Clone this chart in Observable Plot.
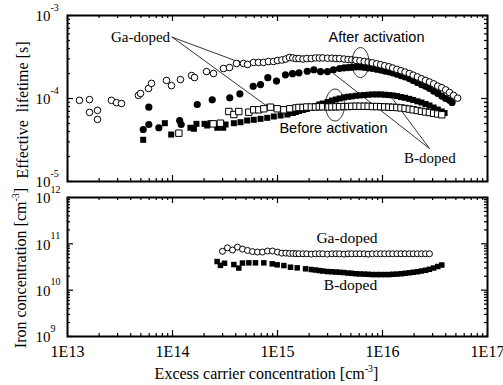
<!DOCTYPE html>
<html><head><meta charset="utf-8">
<script src="https://cdn.jsdelivr.net/npm/d3@7"></script>
<script src="https://cdn.jsdelivr.net/npm/@observablehq/plot@0.6"></script>
<style>
body{margin:0;background:#fff;}
#chart{position:relative;width:503px;height:385px;background:#fff;overflow:hidden;}
#chart svg{position:absolute;left:0;}
</style></head><body><div id="chart"></div>
<script>
// ---------- axes / ticks ----------
const xDomain = [1e13, 1e17];
const xMajor = [1e13, 1e14, 1e15, 1e16, 1e17];
const xTickLabels = ["1E13", "1E14", "1E15", "1E16", "1E17"];
const minorMantissas = [2, 3, 4, 5, 6, 7, 8, 9];
const tauDomain = [1e-5, 1e-3];
const tauMajor = [1e-5, 1e-4, 1e-3];
const tauExp = ["-5", "-4", "-3"];
const feDomain = [1e9, 1e12];
const feMajor = [1e9, 1e10, 1e11, 1e12];
const feExp = ["9", "10", "11", "12"];
const xTitle = "Excess carrier concentration [cm⁻³]";
const tauTitle = "Effective\u00a0 lifetime [s]";
const feTitle = "Iron concentration [cm⁻³]";

// ---------- top panel: effective lifetime ----------
// Ga-doped, after activation (open circles)
const gaAfterN = [1.30e13,1.62e13,1.62e13,1.93e13,1.93e13,2.62e13,2.93e13,3.27e13,4.74e13,4.96e13,5.91e13,6.31e13,8.77e13,9.78e13,1.19e14,1.52e14,1.62e14,2.11e14,2.46e14,3.06e14,3.49e14,4.07e14,4.74e14,5.18e14,5.91e14,6.59e14,7.36e14,8.21e14,9.16e14,
1.0e15,1.1e15,1.2e15,1.3e15,1.4e15,1.5e15,1.6e15,1.75e15,1.9e15,2.1e15,2.3e15,2.5e15,2.7e15,3.0e15,3.3e15,3.6e15,3.9e15,4.3e15,4.7e15,5.1e15,5.6e15,6.1e15,6.7e15,7.3e15,8.0e15,8.8e15,9.6e15,
1.05e16,1.15e16,1.25e16,1.37e16,1.5e16,1.64e16,1.8e16,1.96e16,2.15e16,2.35e16,2.57e16,2.8e16,3.07e16,3.36e16,3.67e16,4.0e16,4.35e16,4.75e16,5.2e16];
const gaAfterTau = [9.5e-5,9.7e-5,6.8e-5,7.2e-5,5.6e-5,9.5e-5,8.9e-5,8.7e-5,1.09e-4,1.15e-4,1.32e-4,1.52e-4,1.65e-4,1.43e-4,1.69e-4,1.89e-4,1.79e-4,2.11e-4,2.0e-4,2.30e-4,2.36e-4,2.64e-4,2.64e-4,2.57e-4,2.72e-4,2.72e-4,2.72e-4,2.79e-4,2.79e-4,
2.87e-4,2.91e-4,2.99e-4,3.12e-4,3.08e-4,3.03e-4,3.03e-4,2.99e-4,3.03e-4,3.03e-4,3.08e-4,3.08e-4,3.08e-4,3.06e-4,3.06e-4,3.03e-4,3.03e-4,2.99e-4,2.95e-4,2.93e-4,2.88e-4,2.85e-4,2.79e-4,2.75e-4,2.69e-4,2.62e-4,2.55e-4,
2.48e-4,2.41e-4,2.33e-4,2.24e-4,2.16e-4,2.08e-4,2.0e-4,1.91e-4,1.82e-4,1.73e-4,1.65e-4,1.58e-4,1.50e-4,1.41e-4,1.35e-4,1.27e-4,1.18e-4,1.09e-4,1.01e-4];

// B-doped, after activation (filled circles)
const bAfterN = [5.26e13,5.95e13,5.95e13,7.41e13,1.17e14,1.21e14,1.72e14,2.39e14,3.51e14,4.38e14,5.87e14,6.89e14,8.09e14,9.78e14,
1.19e15,1.39e15,1.60e15,1.92e15,2.22e15,2.57e15,2.99e15,3.41e15,3.9e15,4.3e15,4.7e15,5.1e15,5.6e15,6.1e15,6.7e15,7.3e15,8.0e15,8.8e15,9.6e15,
1.05e16,1.15e16,1.25e16,1.37e16,1.5e16,1.64e16,1.8e16,1.96e16,2.15e16,2.35e16,2.57e16,2.8e16,3.07e16,3.36e16,3.67e16,4.0e16,4.35e16,4.6e16];
const bAfterTau = [4.23e-5,4.86e-5,7.86e-5,4.44e-5,5.43e-5,4.86e-5,8.47e-5,9.64e-5,1.02e-4,1.14e-4,1.40e-4,1.47e-4,1.78e-4,1.62e-4,
1.93e-4,1.99e-4,2.04e-4,2.13e-4,2.22e-4,2.11e-4,2.11e-4,2.22e-4,2.30e-4,2.34e-4,2.36e-4,2.38e-4,2.40e-4,2.40e-4,2.38e-4,2.34e-4,2.30e-4,2.25e-4,2.20e-4,
2.14e-4,2.10e-4,2.04e-4,1.96e-4,1.89e-4,1.82e-4,1.74e-4,1.65e-4,1.56e-4,1.47e-4,1.40e-4,1.32e-4,1.23e-4,1.15e-4,1.07e-4,1.0e-4,9.5e-5,8.95e-5];

// Ga-doped, before activation (open squares)
const gaBeforeN = [1.15e14,2.44e14,2.86e14,3.44e14,3.84e14,4.28e14,5.33e14,5.94e14,6.64e14,7.41e14,8.58e14,9.93e14,1.15e15,1.31e15,
1.5e15,1.6e15,1.75e15,1.9e15,2.1e15,2.3e15,2.5e15,2.7e15,3.0e15,3.3e15,3.6e15,3.9e15,4.3e15,4.7e15,5.1e15,5.6e15,6.1e15,6.7e15,7.3e15,8.0e15,8.8e15,9.6e15,
1.05e16,1.15e16,1.25e16,1.37e16,1.5e16,1.64e16,1.8e16,1.96e16,2.15e16,2.35e16,2.57e16,2.8e16,3.07e16,3.36e16,3.67e16];
const gaBeforeTau = [3.82e-5,4.95e-5,5.04e-5,6.97e-5,6.41e-5,6.97e-5,6.84e-5,7.31e-5,7.31e-5,7.52e-5,7.86e-5,7.52e-5,7.31e-5,7.52e-5,
7.7e-5,7.8e-5,7.8e-5,7.9e-5,7.9e-5,7.9e-5,7.95e-5,7.95e-5,7.9e-5,7.92e-5,7.94e-5,7.96e-5,8.0e-5,8.0e-5,8.05e-5,8.07e-5,8.07e-5,8.07e-5,8.05e-5,8.0e-5,8.0e-5,7.96e-5,
7.92e-5,7.88e-5,7.83e-5,7.79e-5,7.70e-5,7.58e-5,7.45e-5,7.31e-5,7.16e-5,7.01e-5,6.88e-5,6.78e-5,6.63e-5,6.51e-5,6.37e-5];

// B-doped, before activation (filled squares)
const bBeforeN = [5.26e13,8.45e13,9.72e13,1.48e14,1.60e14,1.69e14,2.02e14,2.14e14,2.30e14,2.67e14,3.04e14,3.20e14,3.84e14,4.44e14,5.14e14,5.94e14,6.89e14,7.98e14,9.22e14,1.07e15,1.24e15,
1.4e15,1.5e15,1.6e15,1.75e15,1.9e15,2.1e15,2.3e15,2.5e15,2.7e15,3.0e15,3.3e15,3.6e15,3.9e15,4.3e15,4.7e15,5.1e15,5.6e15,6.1e15,6.7e15,7.3e15,8.0e15,8.8e15,9.6e15,
1.05e16,1.15e16,1.25e16,1.37e16,1.5e16,1.64e16,1.8e16,1.96e16,2.15e16,2.35e16,2.57e16,2.8e16,3.07e16,3.36e16,3.67e16,3.9e16];
const bBeforeTau = [3.18e-5,5.04e-5,3.68e-5,4.44e-5,4.32e-5,4.95e-5,4.95e-5,4.73e-5,5.04e-5,4.44e-5,4.44e-5,4.86e-5,5.04e-5,5.18e-5,5.43e-5,5.54e-5,5.69e-5,5.85e-5,6.07e-5,6.24e-5,6.41e-5,
6.69e-5,6.88e-5,7.07e-5,7.27e-5,7.47e-5,7.79e-5,8.12e-5,8.47e-5,8.70e-5,9.08e-5,9.46e-5,9.72e-5,1.0e-4,1.03e-4,1.05e-4,1.06e-4,1.08e-4,1.09e-4,1.10e-4,1.11e-4,1.12e-4,1.12e-4,1.12e-4,
1.11e-4,1.10e-4,1.09e-4,1.07e-4,1.04e-4,1.02e-4,9.9e-5,9.6e-5,9.25e-5,8.95e-5,8.59e-5,8.24e-5,7.79e-5,7.37e-5,6.97e-5,6.69e-5];

// ---------- bottom panel: iron concentration ----------
const gaFeN = [2.99e14,3.34e14,3.73e14,4.16e14,4.64e14,5.18e14,5.78e14,6.45e14,7.20e14,8.03e14,8.96e14,1.0e15,1.1e15,1.2e15,1.3e15,1.4e15,1.5e15,1.6e15,1.75e15,1.9e15,2.1e15,2.3e15,2.5e15,2.7e15,3.0e15,3.3e15,3.6e15,3.9e15,4.3e15,4.7e15,5.1e15,5.6e15,6.1e15,6.7e15,7.3e15,8.0e15,8.8e15,9.6e15,
1.05e16,1.15e16,1.25e16,1.37e16,1.5e16,1.64e16,1.8e16,1.96e16,2.15e16,2.35e16,2.57e16,2.8e16];
const gaFe = [6.9e10,8.2e10,7.35e10,8.5e10,7.7e10,7.2e10,6.8e10,6.65e10,6.65e10,7.0e10,7.0e10,6.65e10,6.3e10,6.3e10,6.2e10,6.2e10,6.1e10,6.1e10,6.1e10,6.1e10,6.0e10,6.1e10,6.1e10,6.1e10,6.0e10,6.1e10,6.1e10,6.1e10,6.0e10,6.1e10,6.1e10,6.1e10,6.1e10,6.1e10,6.0e10,6.1e10,6.1e10,6.1e10,
6.1e10,6.1e10,6.1e10,6.1e10,6.1e10,6.1e10,6.1e10,6.1e10,6.1e10,6.1e10,6.1e10,6.1e10];
const bFeN = [2.66e14,2.86e14,3.13e14,3.84e14,4.28e14,4.64e14,5.33e14,6.17e14,7.41e14,8.91e14,9.93e14,1.15e15,1.33e15,1.54e15,1.85e15,
2.1e15,2.3e15,2.5e15,2.7e15,3.0e15,3.3e15,3.6e15,3.9e15,4.3e15,4.7e15,5.1e15,5.6e15,6.1e15,6.7e15,7.3e15,8.0e15,8.8e15,9.6e15,
1.05e16,1.15e16,1.25e16,1.37e16,1.5e16,1.64e16,1.8e16,1.96e16,2.15e16,2.35e16,2.57e16,2.8e16,3.07e16,3.36e16,3.67e16];
const bFe = [4.15e10,3.43e10,3.81e10,3.57e10,3.0e10,3.85e10,3.89e10,3.89e10,3.89e10,3.70e10,3.52e10,3.40e10,3.13e10,3.03e10,2.89e10,
2.79e10,2.72e10,2.65e10,2.59e10,2.52e10,2.50e10,2.46e10,2.43e10,2.40e10,2.34e10,2.31e10,2.26e10,2.24e10,2.22e10,2.20e10,2.17e10,2.17e10,2.17e10,
2.17e10,2.17e10,2.20e10,2.22e10,2.26e10,2.31e10,2.37e10,2.43e10,2.50e10,2.59e10,2.69e10,2.82e10,3.01e10,3.24e10,3.49e10];

// ---------- annotations (data coordinates) ----------
const topNoteText = ["Ga-doped", "After activation", "Before activation", "B-doped"];
const topNoteN = [4.96e13, 8.77e15, 3.41e15, 2.83e16];
const topNoteTau = [5.43e-4, 5.43e-4, 4.35e-5, 1.92e-5];
const gaPointerFrom = {n: 9.94e13, tau: 5.48e-4};
const gaPointerToN = [4.44e14, 8.03e14];
const gaPointerToTau = [2.71e-4, 8.0e-5];
const bPointerFrom = {n: 2.80e16, tau: 2.50e-5};
const bPointerToN = [3.41e15, 1.24e16];
const bPointerToTau = [2.0e-4, 1.0e-4];
const ringN = [6.17e15, 3.53e15];
const ringTau = [2.71e-4, 8.35e-5];
const botNoteText = ["Ga-doped", "B-doped"];
const botNoteN = [4.59e15, 4.96e15];
const botNoteFe = [1.33e11, 1.32e10];

// ---------- build ----------
const serif = "Liberation Serif, Times New Roman, serif";
const sans = "Liberation Sans, Arial, sans-serif";
const zip = (xs, ys) => xs.map((x, i) => ({x, y: ys[i]}));
const decadesOf = (lo, hi) => { const out = []; for (let e = Math.log10(lo); e < Math.log10(hi); e++) out.push(Math.pow(10, e)); return out; };
const minorTicks = (lo, hi) => decadesOf(lo, hi).flatMap(d => minorMantissas.map(m => m * d));
const xMinor = minorTicks(1e13, 1e17);
const tauMinor = minorTicks(1e-5, 1e-3);
const feMinor = minorTicks(1e9, 1e12);

const W = 503, ML = 67, MR = 16, innerW = W - ML - MR;
const topH = 190, topMT = 15, topMB = 9, topInnerH = topH - topMT - topMB;
const botH = 195, botMT = 7, botMB = 49, botInnerH = botH - botMT - botMB;

function frameTicks(innerH, yMaj, yMin) {
  const sw = 1.2;
  return [
    Plot.tickX(xMajor, {x: d => d, insetTop: innerH - 6, strokeWidth: sw}),
    Plot.tickX(xMajor, {x: d => d, insetBottom: innerH - 6, strokeWidth: sw}),
    Plot.tickX(xMinor, {x: d => d, insetTop: innerH - 3, strokeWidth: sw}),
    Plot.tickX(xMinor, {x: d => d, insetBottom: innerH - 3, strokeWidth: sw}),
    Plot.tickY(yMaj, {y: d => d, insetRight: innerW - 6, strokeWidth: sw}),
    Plot.tickY(yMaj, {y: d => d, insetLeft: innerW - 6, strokeWidth: sw}),
    Plot.tickY(yMin, {y: d => d, insetRight: innerW - 3, strokeWidth: sw}),
    Plot.tickY(yMin, {y: d => d, insetLeft: innerW - 3, strokeWidth: sw})
  ];
}
function yPowerLabels(maj, exps) {
  return [
    Plot.text(maj, {y: d => d, frameAnchor: "left", text: () => "10", textAnchor: "end", lineAnchor: "middle", dx: -17, dy: 1, fontSize: 15, fontFamily: serif, fill: "black"}),
    Plot.text(maj, {y: d => d, frameAnchor: "left", text: exps, textAnchor: "start", lineAnchor: "middle", dx: -17, dy: -8, fontSize: 10, fontFamily: serif, fill: "black"})
  ];
}
function ellipse(rx, ry) {
  const k = 0.5523;
  return {draw(c) {
    c.moveTo(rx, 0);
    c.bezierCurveTo(rx, ry * k, rx * k, ry, 0, ry);
    c.bezierCurveTo(-rx * k, ry, -rx, ry * k, -rx, 0);
    c.bezierCurveTo(-rx, -ry * k, -rx * k, -ry, 0, -ry);
    c.bezierCurveTo(rx * k, -ry, rx, -ry * k, rx, 0);
    c.closePath();
  }};
}
function supFix(svg) {
  d3.select(svg).selectAll("text").each(function () {
    const t = this.textContent;
    const i = t.indexOf("⁻³");
    if (i < 0) return;
    const sel = d3.select(this);
    sel.text(null);
    sel.append("tspan").text(t.slice(0, i));
    sel.append("tspan").attr("dy", -7).attr("font-size", 10).text("-3");
    sel.append("tspan").attr("dy", 7).text(t.slice(i + 2));
  });
}
const plotStyle = {background: "none", overflow: "visible", fontFamily: serif, fontSize: "16px", color: "black"};

const gaLinks = gaPointerToN.map((n, i) => ({x1: gaPointerFrom.n, y1: gaPointerFrom.tau, x2: n, y2: gaPointerToTau[i]}));
const bLinks = bPointerToN.map((n, i) => ({x1: bPointerFrom.n, y1: bPointerFrom.tau, x2: n, y2: bPointerToTau[i]}));
const notesTop = topNoteText.map((t, i) => ({t, x: topNoteN[i], y: topNoteTau[i]}));
const notesBot = botNoteText.map((t, i) => ({t, x: botNoteN[i], y: botNoteFe[i]}));

const topPlot = Plot.plot({
  width: W, height: topH, marginTop: topMT, marginBottom: topMB, marginLeft: ML, marginRight: MR,
  style: plotStyle,
  x: {type: "log", domain: xDomain, axis: null},
  y: {type: "log", domain: tauDomain, axis: null},
  marks: [
    ...frameTicks(topInnerH, tauMajor, tauMinor),
    ...yPowerLabels(tauMajor, tauExp),
    Plot.text([tauTitle], {frameAnchor: "left", text: d => d, rotate: -90, textAnchor: "middle", lineAnchor: "middle", dx: -45, dy: 11.5, fontSize: 16, fontFamily: serif, fill: "black"}),
    Plot.arrow(gaLinks, {x1: "x1", y1: "y1", x2: "x2", y2: "y2", stroke: "black", strokeWidth: 0.8, headLength: 5}),
    Plot.link(bLinks, {x1: "x1", y1: "y1", x2: "x2", y2: "y2", stroke: "black", strokeWidth: 0.8}),
    Plot.dot(zip(bAfterN, bAfterTau), {x: "x", y: "y", r: 3.6, fill: "black"}),
    Plot.dot(zip(bBeforeN, bBeforeTau), {x: "x", y: "y", r: 3.4, symbol: "square", fill: "black"}),
    Plot.dot(zip(gaBeforeN, gaBeforeTau), {x: "x", y: "y", r: 3.6, symbol: "square", fill: "white", stroke: "black", strokeWidth: 1}),
    Plot.dot(zip(gaAfterN, gaAfterTau), {x: "x", y: "y", r: 3.3, fill: "white", stroke: "black", strokeWidth: 1}),
    Plot.dot([{x: ringN[0], y: ringTau[0]}], {x: "x", y: "y", symbol: ellipse(8.5, 15), fill: "none", stroke: "black", strokeWidth: 0.8}),
    Plot.dot([{x: ringN[1], y: ringTau[1]}], {x: "x", y: "y", symbol: ellipse(9.5, 16), fill: "none", stroke: "black", strokeWidth: 0.8}),
    Plot.text(notesTop.filter(d => d.t.includes("doped")), {x: "x", y: "y", text: "t", fontSize: 15, fontFamily: serif, fill: "black"}),
    Plot.text(notesTop.filter(d => d.t.includes("activation")), {x: "x", y: "y", text: "t", fontSize: 14.5, fontFamily: sans, fill: "black"}),
    Plot.frame({stroke: "black", strokeWidth: 2})
  ]
});

const botPlot = Plot.plot({
  width: W, height: botH, marginTop: botMT, marginBottom: botMB, marginLeft: ML, marginRight: MR,
  style: plotStyle,
  x: {type: "log", domain: xDomain, axis: null},
  y: {type: "log", domain: feDomain, axis: null},
  marks: [
    ...frameTicks(botInnerH, feMajor, feMinor),
    ...yPowerLabels(feMajor, feExp),
    Plot.text(xMajor, {x: d => d, frameAnchor: "bottom", text: xTickLabels, lineAnchor: "middle", dy: 15, fontSize: 16, fontFamily: serif, fill: "black"}),
    Plot.text([xTitle], {frameAnchor: "bottom", text: d => d, lineAnchor: "middle", dx: -11, dy: 37, fontSize: 16, fontFamily: serif, fill: "black"}),
    Plot.text([feTitle], {frameAnchor: "left", text: d => d, rotate: -90, textAnchor: "middle", lineAnchor: "middle", dx: -47, dy: 1, fontSize: 16, fontFamily: serif, fill: "black"}),
    Plot.dot(zip(bFeN, bFe), {x: "x", y: "y", r: 3.1, symbol: "square", fill: "black"}),
    Plot.dot(zip(gaFeN, gaFe), {x: "x", y: "y", r: 3.0, fill: "white", stroke: "black", strokeWidth: 1}),
    Plot.text(notesBot, {x: "x", y: "y", text: "t", fontSize: 15.5, fontFamily: serif, fill: "black"}),
    Plot.frame({stroke: "black", strokeWidth: 2})
  ]
});

supFix(topPlot); supFix(botPlot);
topPlot.style.top = "0px";
botPlot.style.top = topH + "px";
const chart = document.getElementById("chart");
chart.appendChild(topPlot);
chart.appendChild(botPlot);
</script>
</body></html>
